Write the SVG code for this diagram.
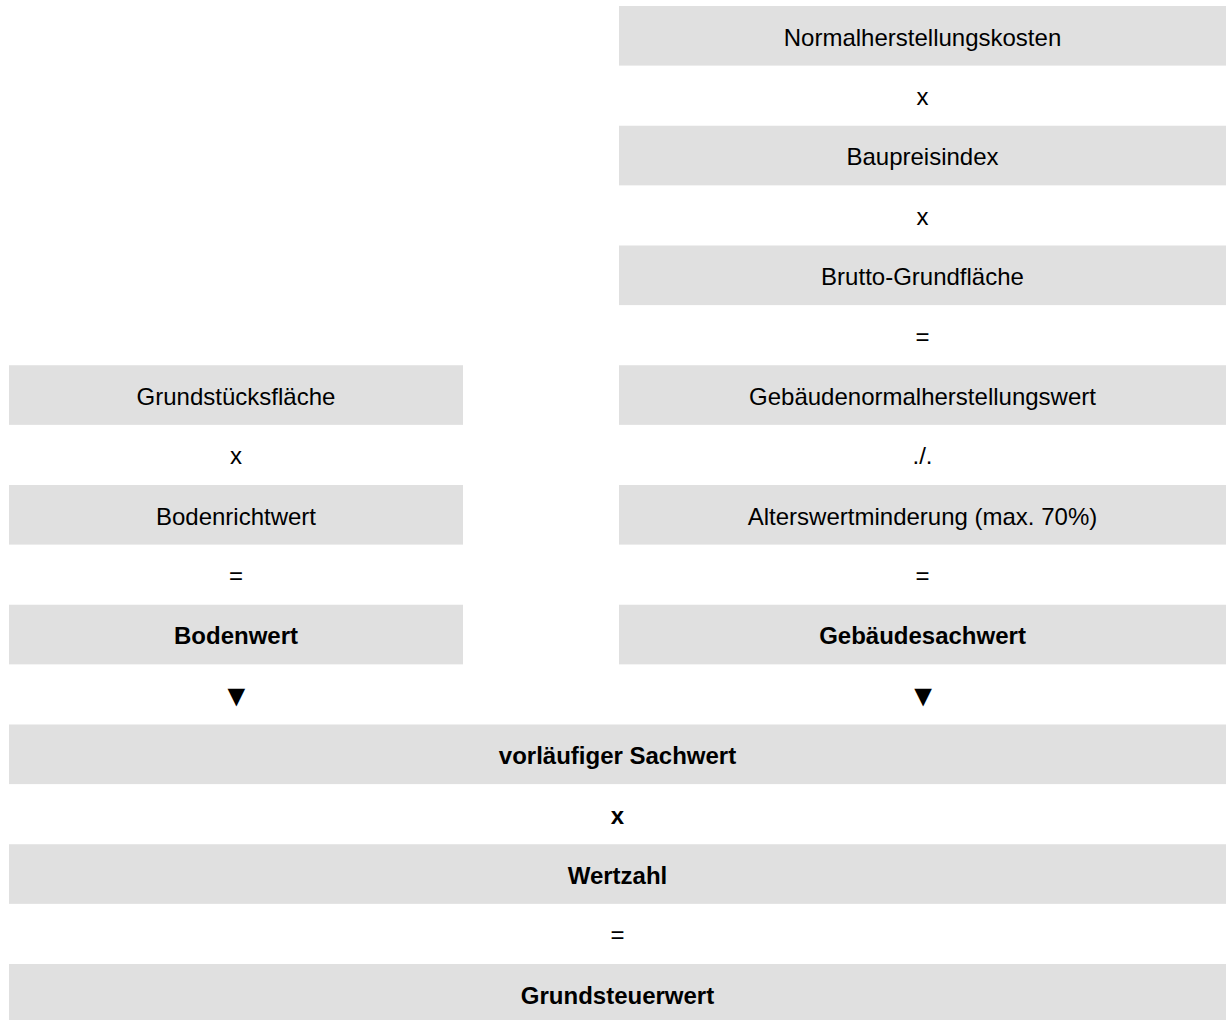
<svg xmlns="http://www.w3.org/2000/svg" width="1226" height="1020" viewBox="0 0 1226 1020">
<style>
.b{fill:#e0e0e0}
text{font-family:"Liberation Sans",Arial,sans-serif;font-size:24px;fill:#000;text-anchor:middle}
.bd{font-weight:bold}
.tri{font-size:30px}
</style>
<rect width="1226" height="1020" fill="#fff"/>
<g id="n-normalherstellungskosten"><rect class="b" x="619" y="6" width="607" height="59.6"/><text x="922.5" y="45.5">Normalherstellungskosten</text></g>
<g id="op-1"><text x="922.5" y="105">x</text></g>
<g id="n-baupreisindex"><rect class="b" x="619" y="125.75" width="607" height="59.6"/><text x="922.5" y="165.2">Baupreisindex</text></g>
<g id="op-2"><text x="922.5" y="224.8">x</text></g>
<g id="n-brutto"><rect class="b" x="619" y="245.5" width="607" height="59.6"/><text x="922.5" y="285">Brutto-Grundfläche</text></g>
<g id="op-3"><text x="922.5" y="344.7">=</text></g>
<g id="n-grundstuecksflaeche"><rect class="b" x="9" y="365.25" width="454" height="59.6"/><text x="236" y="404.7">Grundstücksfläche</text></g>
<g id="n-gebaeudenormal"><rect class="b" x="619" y="365.25" width="607" height="59.6"/><text x="922.5" y="404.7">Gebäudenormalherstellungswert</text></g>
<g id="op-4"><text x="236" y="464.4">x</text></g>
<g id="op-5"><text x="922.5" y="464.4">./.</text></g>
<g id="n-bodenrichtwert"><rect class="b" x="9" y="485" width="454" height="59.6"/><text x="236" y="524.5">Bodenrichtwert</text></g>
<g id="n-alterswertminderung"><rect class="b" x="619" y="485" width="607" height="59.6"/><text x="922.5" y="524.5">Alterswertminderung (max. 70%)</text></g>
<g id="op-6"><text x="236" y="584.2">=</text><text x="922.5" y="584.2">=</text></g>
<g id="n-bodenwert"><rect class="b" x="9" y="604.75" width="454" height="59.6"/><text class="bd" x="236" y="644.2">Bodenwert</text></g>
<g id="n-gebaeudesachwert"><rect class="b" x="619" y="604.75" width="607" height="59.6"/><text class="bd" x="922.5" y="644.2">Gebäudesachwert</text></g>
<g id="connectors"><text class="tri" x="236.3" y="705.6">▼</text><text class="tri" x="923" y="705.6">▼</text></g>
<g id="n-vorlaeufiger"><rect class="b" x="9" y="724.5" width="1217" height="59.6"/><text class="bd" x="617.5" y="764">vorläufiger Sachwert</text></g>
<g id="op-7"><text class="bd" x="617.5" y="823.7">x</text></g>
<g id="n-wertzahl"><rect class="b" x="9" y="844.25" width="1217" height="59.6"/><text class="bd" x="617.5" y="883.7">Wertzahl</text></g>
<g id="op-8"><text x="617.5" y="943.4">=</text></g>
<g id="n-grundsteuerwert"><rect class="b" x="9" y="964" width="1217" height="56"/><text class="bd" x="617.5" y="1003.5">Grundsteuerwert</text></g>
</svg>
